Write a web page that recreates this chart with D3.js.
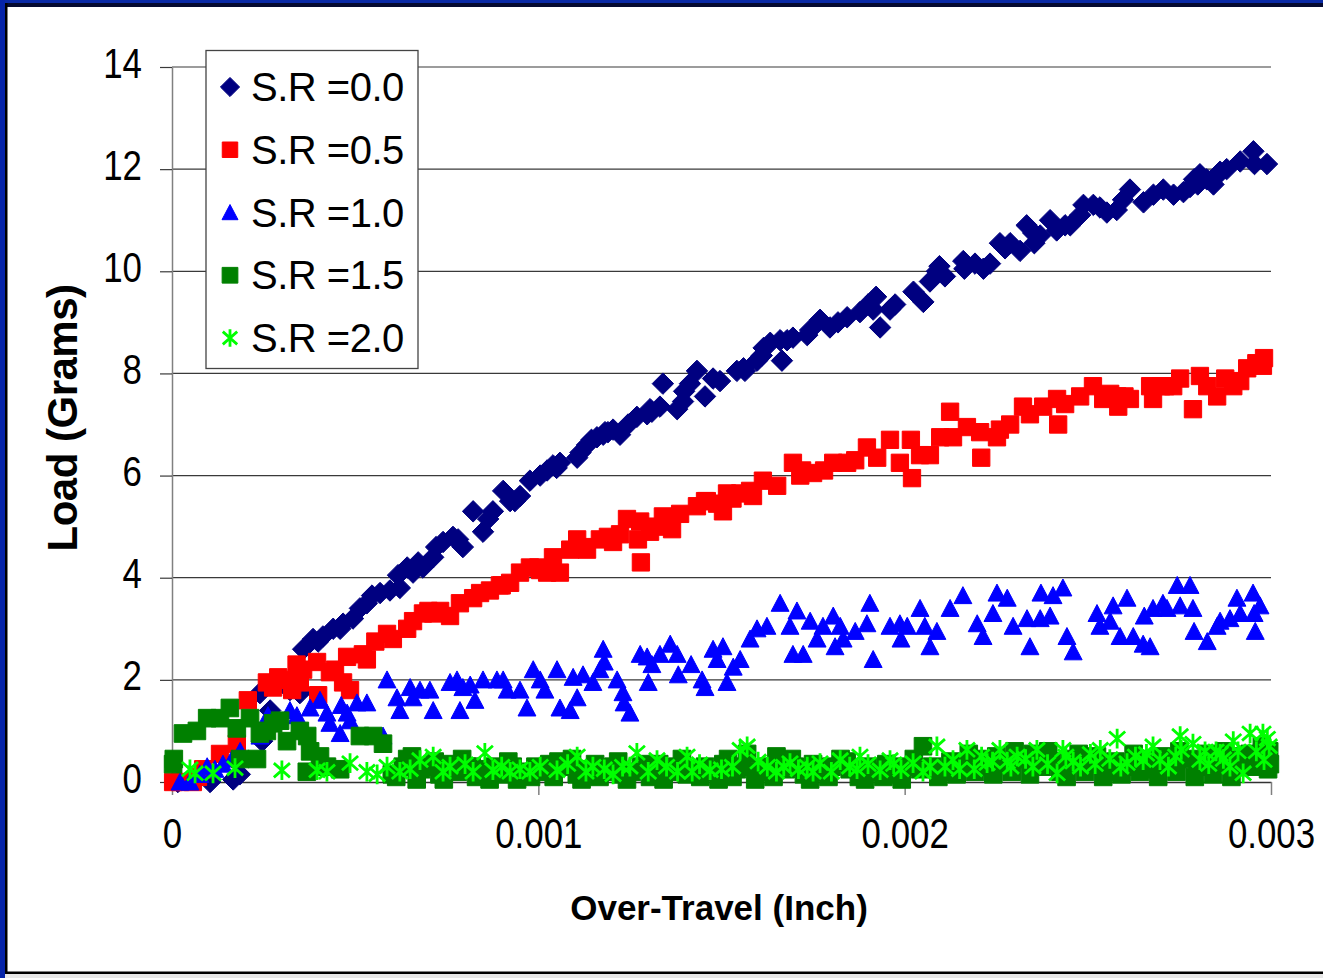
<!DOCTYPE html>
<html><head><meta charset="utf-8">
<script src="https://cdn.jsdelivr.net/npm/d3@7"></script>
<style>
html,body{margin:0;padding:0;background:#fff;}
svg{display:block;}
text{font-family:"Liberation Sans",Arial,Helvetica,sans-serif;fill:#000;}
</style>
</head><body>
<svg id="chart" width="1323" height="978"></svg>
<script>
// ---------------- data (x in inches, y in grams) ----------------
const SERIES_NAMES = ["S.R =0.0", "S.R =0.5", "S.R =1.0", "S.R =1.5", "S.R =2.0"];
const X_TICKS = [0, 0.001, 0.002, 0.003];
const X_TICK_LABELS = ["0", "0.001", "0.002", "0.003"];
const Y_TICKS = [0, 2, 4, 6, 8, 10, 12, 14];
const Y_TICK_LABELS = ["0", "2", "4", "6", "8", "10", "12", "14"];
const X_TITLE = "Over-Travel (Inch)";
const Y_TITLE = "Load (Grams)";

const sr00 = [
[0.000016,0.0],[0.000049,0.05],[0.000104,0.0],[0.000167,0.05],[0.000185,0.15],[0.000246,0.8],
[0.000240,1.74],[0.000268,1.4],[0.000322,1.8],[0.000349,1.74],[0.000358,2.6],[0.000385,2.8],[0.000399,2.75],[0.000412,2.85],
[0.000440,3.0],[0.000459,3.0],[0.000467,3.1],[0.000494,3.2],[0.000513,3.4],[0.000532,3.5],[0.000546,3.65],[0.000568,3.7],
[0.000595,3.75],[0.000617,4.05],[0.000622,3.8],[0.000642,4.2],[0.000658,4.1],[0.000672,4.3],[0.000685,4.2],[0.000713,4.4],
[0.000721,4.6],[0.000740,4.7],[0.000767,4.8],[0.000781,4.75],[0.000794,4.6],[0.000822,5.3],[0.000849,4.9],[0.000863,5.15],[0.000876,5.3],
[0.000904,5.7],[0.000923,5.5],[0.000936,5.5],[0.000950,5.6],[0.000977,5.9],[0.001005,6.0],[0.001024,6.1],[0.001040,6.2],
[0.001050,6.15],[0.001059,6.25],[0.001115,6.45],[0.001145,6.7],[0.001182,6.85],[0.001190,6.85],
[0.001106,6.35],[0.001133,6.6],[0.001160,6.75],[0.001177,6.8],[0.001204,6.9],[0.001223,6.8],[0.001245,7.0],
[0.001269,7.15],[0.001297,7.2],[0.001305,7.3],[0.001310,7.25],[0.001332,7.35],[0.001340,7.8],[0.001379,7.3],
[0.001395,7.45],[0.001398,7.65],[0.001414,7.8],
[0.001433,8.05],[0.001455,7.55],[0.001477,7.9],[0.001496,7.85],[0.001542,8.05],[0.001560,8.1],[0.001564,8.05],[0.001597,8.25],
[0.001610,8.35],[0.001615,8.5],[0.001633,8.6],
[0.001660,8.65],[0.001665,8.25],[0.001679,8.65],[0.001695,8.7],[0.001734,8.75],[0.001742,8.85],[0.001769,9.05],[0.001796,8.9],
[0.001818,9.0],[0.001843,9.1],[0.001878,9.2],[0.001900,9.35],[0.001914,9.25],[0.001922,9.5],[0.001933,8.9],[0.001960,9.25],[0.001974,9.35],
[0.002024,9.6],[0.002051,9.4],[0.002069,9.8],[0.002088,10.0],[0.002095,10.1],[0.002110,9.9],[0.002160,10.2],[0.002163,10.05],
[0.002192,10.15],[0.002215,10.05],[0.002233,10.15],[0.002260,10.55],[0.002274,10.45],[0.002288,10.55],[0.002315,10.4],[0.002333,10.9],
[0.002351,10.75],[0.002354,10.55],[0.002370,10.7],[0.002397,11.0],[0.002415,10.8],[0.002438,10.9],[0.002452,10.9],[0.002479,11.1],
[0.002488,11.3],[0.002515,11.3],[0.002533,11.25],[0.002552,11.15],[0.002579,11.2],[0.002596,11.4],[0.002615,11.6],[0.002652,11.35],
[0.002679,11.5],[0.002706,11.6],[0.002734,11.5],[0.002761,11.55],[0.002779,11.65],[0.002790,11.8],[0.002800,11.7],
[0.002806,11.9],[0.002825,11.8],[0.002843,11.7],[0.002850,11.85],
[0.002861,11.95],[0.002879,12.0],[0.002916,12.15],[0.002952,12.35],[0.002955,12.1],[0.002989,12.1]
];

const sr05 = [
[0.000003,0.0],[0.000022,0.0],[0.000057,0.0],[0.000071,0.1],[0.000085,0.25],[0.000131,0.55],
[0.000177,0.75],[0.000207,1.6],[0.000259,1.95],[0.000276,1.85],[0.000290,2.05],[0.000322,2.0],[0.000328,1.8],
[0.000340,2.3],[0.000349,1.95],[0.000358,2.2],[0.000396,2.35],[0.000399,1.7],[0.000431,2.15],[0.000445,2.2],[0.000467,1.95],[0.000486,1.8],
[0.000478,2.45],[0.000521,2.5],[0.000532,2.4],[0.000555,2.75],[0.000587,2.9],[0.000603,2.8],[0.000642,3.0],[0.000658,3.15],
[0.000685,3.3],[0.000700,3.35],[0.000713,3.3],[0.000732,3.35],[0.000759,3.25],[0.000786,3.5],[0.000822,3.6],[0.000841,3.7],[0.000868,3.75],
[0.000895,3.85],[0.000900,3.85],[0.000923,3.9],[0.000950,4.1],[0.000977,4.2],[0.001000,4.2],[0.001005,4.15],[0.001024,4.1],[0.001040,4.4],[0.001059,4.1],
[0.001087,4.55],[0.001106,4.75],[0.001122,4.6],[0.001133,4.55],[0.001168,4.75],[0.001190,4.8],[0.001204,4.7],[0.001223,4.85],[0.001242,5.15],
[0.001278,5.1],[0.001272,4.75],[0.001280,4.3],[0.001305,4.9],[0.001319,5.0],[0.001340,5.2],[0.001365,4.95],
[0.001387,5.25],[0.001433,5.4],[0.001455,5.5],[0.001460,5.5],[0.001488,5.45],[0.001504,5.3],[0.001515,5.65],[0.001530,5.55],[0.001551,5.65],
[0.001578,5.7],[0.001586,5.6],[0.001613,5.9],[0.001652,5.8],[0.001695,6.25],[0.001715,6.0],[0.001720,6.1],[0.001750,6.05],[0.001780,6.1],[0.001805,6.25],
[0.001843,6.25],[0.001865,6.3],[0.001897,6.55],[0.001925,6.35],[0.001960,6.7],[0.001987,6.25],[0.002017,6.7],
[0.002020,5.95],[0.002042,6.4],[0.002069,6.4],[0.002097,6.75],[0.002124,7.25],[0.002132,6.75],[0.002170,6.95],
[0.002206,6.85],[0.002209,6.35],[0.002252,6.75],[0.002260,6.9],[0.002288,7.0],[0.002323,7.35],[0.002342,7.2],[0.002378,7.35],
[0.002416,7.5],[0.002419,7.0],[0.002438,7.4],[0.002479,7.55],[0.002514,7.75],[0.002542,7.5],[0.002561,7.6],[0.002580,7.55],
[0.002583,7.35],[0.002600,7.55],[0.002615,7.5],[0.002670,7.75],[0.002678,7.5],[0.002700,7.75],[0.002711,7.75],[0.002733,7.75],[0.002752,7.9],
[0.002787,7.3],[0.002806,7.95],[0.002826,7.75],[0.002853,7.55],[0.002875,7.9],[0.002897,7.75],[0.002916,7.85],
[0.002935,8.1],[0.002960,8.2],[0.002978,8.15],[0.002981,8.3]
];

const sr10 = [
[0.000022,0.0],[0.000049,0.0],[0.000076,0.15],[0.000096,0.3],[0.000117,0.25],[0.000139,0.35],
[0.000164,0.45],[0.000186,0.6],[0.000240,0.9],[0.000262,1.3],[0.000322,1.4],[0.000341,1.3],[0.000377,1.45],
[0.000404,1.6],[0.000423,1.35],[0.000431,1.15],[0.000459,0.95],[0.000462,1.5],[0.000478,1.35],[0.000486,1.2],
[0.000505,1.55],[0.000532,1.55],[0.000576,0.9],[0.000587,2.0],[0.000614,1.65],[0.000622,1.4],
[0.000650,1.85],[0.000658,1.65],[0.000677,1.8],[0.000704,1.8],[0.000713,1.4],[0.000759,1.95],[0.000778,2.0],
[0.000786,1.4],[0.000794,1.85],[0.000814,1.9],[0.000827,1.6],[0.000849,2.0],[0.000887,2.0],[0.000904,2.0],
[0.000915,1.8],[0.000950,1.8],[0.000969,1.45],[0.000986,2.2],[0.001005,2.0],[0.001018,1.8],[0.001051,2.2],
[0.001059,1.45],[0.001087,1.4],[0.001095,2.05],[0.001106,1.65],[0.001122,2.1],[0.001149,1.95],
[0.001168,2.2],[0.001177,2.6],[0.001180,2.35],[0.001215,2.0],[0.001231,1.75],[0.001234,1.55],
[0.001250,1.35],[0.001278,2.5],[0.001297,2.45],[0.001300,1.95],[0.001310,2.3],[0.001332,2.5],[0.001360,2.7],
[0.001379,2.5],[0.001382,2.1],[0.001417,2.3],[0.001447,2.0],[0.001455,1.85],[0.001477,2.6],[0.001488,2.4],
[0.001504,2.65],[0.001515,1.95],[0.001532,2.25],[0.001551,2.4],[0.001578,2.8],[0.001597,3.0],[0.001624,3.05],
[0.001660,3.5],[0.001687,3.05],[0.001695,2.5],[0.001706,3.35],[0.001723,2.5],[0.001742,3.15],[0.001761,2.8],
[0.001777,3.05],[0.001805,3.25],[0.001810,2.65],[0.001824,3.05],[0.001832,2.8],[0.001865,2.95],[0.001905,3.5],
[0.001897,3.1],[0.001914,2.4],[0.001960,3.05],[0.001987,3.1],[0.001990,2.8],[0.002007,3.05],
[0.002042,3.4],[0.002055,3.05],[0.002069,2.65],[0.002088,2.95],[0.002124,3.4],[0.002159,3.65],[0.002198,3.1],
[0.002214,2.85],[0.002241,3.3],[0.002252,3.7],[0.002280,3.6],[0.002296,3.05],[0.002334,3.2],
[0.002342,2.65],[0.002370,3.2],[0.002372,3.7],[0.002397,3.25],[0.002405,3.65],[0.002432,3.8],[0.002443,2.85],
[0.002460,2.55],[0.002525,3.3],[0.002533,3.05],[0.002561,3.15],[0.002569,3.45],[0.002588,2.85],[0.002607,3.6],
[0.002624,2.85],[0.002651,2.7],[0.002654,3.25],[0.002670,2.65],[0.002678,3.4],[0.002705,3.5],
[0.002716,3.4],[0.002744,3.85],[0.002752,3.45],[0.002779,3.85],[0.002787,3.4],[0.002790,2.95],[0.002826,2.75],
[0.002853,3.05],[0.002861,3.15],[0.002888,3.2],[0.002907,3.6],[0.002916,3.3],[0.002951,3.7],[0.002954,3.3],
[0.002970,3.45],[0.002957,2.95]
];

const sr15 = [
[0.000003,0.35],[0.000005,0.45],[0.000030,0.95],[0.000068,1.0],[0.000096,1.25],[0.000131,1.25],
[0.000158,1.45],[0.000177,1.05],[0.000213,1.25],[0.000240,0.95],[0.000259,1.0],[0.000276,1.15],
[0.000295,1.2],[0.000314,0.8],[0.000349,1.0],[0.000369,0.9],[0.000377,0.6],[0.000404,0.5],
[0.000423,0.3],[0.000186,0.45],[0.000232,0.45],[0.000368,0.2],[0.000459,0.25],[0.000513,0.9],
[0.000549,0.9],[0.000576,0.75],[0.000600,0.15],[0.000612,0.1],[0.000630,0.3],[0.000642,0.45],[0.000655,0.5],[0.000668,0.05],[0.000680,0.25],
[0.000700,0.3],[0.000717,0.4],[0.000730,0.15],[0.000742,0.05],[0.000755,0.35],[0.000780,0.2],[0.000792,0.45],[0.000805,0.3],[0.000818,0.3],[0.000830,0.1],
[0.000850,0.25],[0.000867,0.05],[0.000880,0.3],[0.000905,0.15],[0.000918,0.4],[0.000930,0.3],[0.000942,0.05],[0.000955,0.2],[0.000980,0.1],[0.000992,0.3],
[0.001005,0.2],[0.001030,0.35],[0.001042,0.1],[0.001055,0.4],[0.001080,0.3],[0.001092,0.45],[0.001105,0.15],[0.001118,0.05],[0.001130,0.25],
[0.001155,0.35],[0.001167,0.1],[0.001180,0.2],[0.001205,0.3],[0.001218,0.4],[0.001230,0.15],[0.001242,0.05],[0.001255,0.2],[0.001280,0.3],[0.001292,0.35],
[0.001305,0.1],[0.001330,0.35],[0.001342,0.05],[0.001355,0.2],[0.001380,0.3],[0.001392,0.45],[0.001405,0.15],[0.001430,0.25],[0.001442,0.1],
[0.001455,0.3],[0.001480,0.2],[0.001492,0.05],[0.001505,0.35],[0.001518,0.45],[0.001530,0.1],[0.001542,0.25],[0.001555,0.3],[0.001570,0.55],
[0.001592,0.05],[0.001600,0.2],[0.001625,0.3],[0.001642,0.1],[0.001650,0.5],[0.001675,0.25],[0.001692,0.45],[0.001700,0.3],[0.001725,0.15],
[0.001742,0.05],[0.001750,0.35],[0.001775,0.2],[0.001792,0.1],[0.001800,0.3],[0.001825,0.45],[0.001842,0.4],[0.001850,0.25],[0.001875,0.1],
[0.001892,0.05],[0.001900,0.3],[0.001925,0.2],[0.001942,0.1],[0.001950,0.35],[0.001975,0.15],[0.001992,0.05],[0.002000,0.3],[0.002025,0.45],
[0.002042,0.25],[0.002050,0.7],[0.002075,0.3],[0.002092,0.1],[0.002100,0.2],[0.002125,0.4],[0.002142,0.15],[0.002150,0.35],[0.002175,0.55],
[0.002192,0.2],[0.002200,0.45],[0.002225,0.3],[0.002242,0.15],[0.002250,0.5],[0.002275,0.35],[0.002292,0.2],[0.002300,0.6],[0.002325,0.45],
[0.002342,0.15],[0.002350,0.55],[0.002375,0.3],[0.002392,0.6],[0.002400,0.4],[0.002425,0.2],[0.002442,0.1],[0.002450,0.45],[0.002475,0.55],
[0.002492,0.2],[0.002500,0.35],[0.002525,0.5],[0.002542,0.1],[0.002550,0.2],[0.002575,0.4],[0.002592,0.15],[0.002600,0.3],[0.002625,0.55],
[0.002642,0.2],[0.002650,0.45],[0.002675,0.25],[0.002692,0.1],[0.002700,0.5],[0.002725,0.35],[0.002742,0.2],[0.002750,0.6],[0.002775,0.45],
[0.002792,0.1],[0.002800,0.3],[0.002825,0.55],[0.002842,0.15],[0.002850,0.4],[0.002875,0.6],[0.002892,0.1],[0.002900,0.35],[0.002925,0.5],
[0.002942,0.55],[0.002950,0.3],[0.002975,0.7],[0.002985,0.55],[0.002992,0.25],[0.002995,0.6],[0.002997,0.35]
];

const sr20 = [
[0.000049,0.25],[0.000063,0.17],[0.000112,0.17],[0.000172,0.27],[0.000300,0.23],[0.000396,0.23],
[0.000423,0.2],[0.000486,0.37],[0.000532,0.2],[0.000560,0.15],[0.000587,0.3],[0.000622,0.2],[0.000650,0.25],[0.000677,0.43],
[0.000713,0.5],[0.000740,0.2],[0.000759,0.3],[0.000800,0.35],[0.000822,0.2],[0.000854,0.57],[0.000876,0.23],[0.000900,0.3],[0.000923,0.2],
[0.000950,0.25],[0.000977,0.2],[0.001005,0.3],[0.001051,0.23],[0.001080,0.35],[0.001106,0.5],[0.001130,0.2],[0.001149,0.3],[0.001180,0.25],
[0.001204,0.15],[0.001230,0.3],[0.001250,0.3],[0.001269,0.57],[0.001300,0.2],[0.001324,0.43],[0.001350,0.3],
[0.001380,0.2],[0.001406,0.5],[0.001420,0.2],[0.001440,0.35],[0.001469,0.23],[0.001500,0.25],[0.001530,0.3],[0.001551,0.63],
[0.001570,0.7],[0.001600,0.4],[0.001625,0.3],[0.001650,0.2],[0.001670,0.3],[0.001687,0.37],[0.001710,0.25],
[0.001734,0.3],[0.001750,0.2],[0.001769,0.37],[0.001800,0.2],[0.001824,0.43],[0.001850,0.3],[0.001870,0.25],[0.001878,0.5],
[0.001900,0.35],[0.001933,0.23],[0.001960,0.43],[0.001970,0.35],[0.001990,0.25],[0.002023,0.37],[0.002050,0.2],[0.002070,0.3],
[0.002088,0.7],[0.002110,0.3],[0.002132,0.43],[0.002150,0.25],[0.002170,0.63],[0.002190,0.25],[0.002210,0.5],[0.002225,0.37],
[0.002240,0.4],[0.002260,0.63],[0.002280,0.4],[0.002290,0.3],[0.002307,0.5],[0.002330,0.45],[0.002350,0.3],[0.002361,0.63],
[0.002390,0.35],[0.002416,0.17],[0.002432,0.63],[0.002440,0.5],[0.002460,0.4],[0.002480,0.3],[0.002507,0.55],[0.002520,0.35],
[0.002534,0.63],[0.002560,0.45],[0.002580,0.85],[0.002590,0.3],[0.002607,0.37],[0.002630,0.5],[0.002651,0.43],[0.002660,0.55],
[0.002678,0.7],[0.002697,0.43],[0.002720,0.3],[0.002740,0.5],[0.002752,0.9],[0.002755,0.63],[0.002787,0.75],
[0.002806,0.43],[0.002820,0.6],[0.002830,0.35],[0.002850,0.6],[0.002861,0.55],[0.002870,0.45],[0.002888,0.3],[0.002897,0.8],
[0.002910,0.6],[0.002924,0.17],[0.002943,0.95],[0.002960,0.6],[0.002978,0.95],[0.002981,0.43],[0.002990,0.85],[0.002995,0.7]
];

// ---------------- drawing ----------------
const W = 1323, H = 978;
const svg = d3.select("#chart");

const x = d3.scaleLinear().domain([0, 0.003]).range([172, 1271]);
const y = d3.scaleLinear().domain([0, 14]).range([782, 67]);

// background + frame
svg.append("rect").attr("x",0).attr("y",0).attr("width",W).attr("height",H).attr("fill","#fff");
svg.append("rect").attr("x",0).attr("y",0).attr("width",W).attr("height",3).attr("fill","#0a2aa6");
svg.append("rect").attr("x",0).attr("y",3).attr("width",W).attr("height",4).attr("fill","#050a30");
svg.append("rect").attr("x",0).attr("y",0).attr("width",5).attr("height",H).attr("fill","#0624a8");
svg.append("rect").attr("x",5).attr("y",3).attr("width",2.5).attr("height",969).attr("fill","#000");
svg.append("rect").attr("x",5).attr("y",971.5).attr("width",W).attr("height",2.5).attr("fill","#000");
svg.append("rect").attr("x",5).attr("y",974).attr("width",W).attr("height",4).attr("fill","#e8e8e8");

// gridlines
svg.append("g").selectAll("line").data(Y_TICKS.filter(d => d > 0)).join("line")
  .attr("x1", x(0)).attr("x2", x(0.003))
  .attr("y1", d => y(d)).attr("y2", d => y(d))
  .attr("stroke", "#3a3a3a").attr("stroke-width", 1.2);

const SX = 0.83; // horizontal squeeze of the tick fonts

// y axis
const gy = svg.append("g").attr("transform", `translate(${x(0)},0)`)
  .call(d3.axisLeft(y).tickValues(Y_TICKS).tickSize(12).tickSizeOuter(0)
        .tickFormat((d, i) => Y_TICK_LABELS[i]));
gy.select(".domain").attr("stroke", "#808080").attr("stroke-width", 1.5);
gy.selectAll(".tick line").attr("stroke", "#3a3a3a").attr("stroke-width", 1.2);
gy.selectAll(".tick text")
  .attr("font-size", 42).attr("font-family", "Liberation Sans, Arial, sans-serif")
  .attr("fill", "#000").attr("text-anchor", "end")
  .attr("x", -30 / SX).attr("y", 10).attr("dy", null)
  .attr("transform", `scale(${SX},1)`);

// x axis
const gx = svg.append("g").attr("transform", `translate(0,${y(0)})`)
  .call(d3.axisBottom(x).tickValues(X_TICKS).tickSize(13).tickSizeOuter(0)
        .tickFormat((d, i) => X_TICK_LABELS[i]));
gx.select(".domain").attr("stroke", "#333").attr("stroke-width", 1.5);
gx.selectAll(".tick line").attr("stroke", "#808080").attr("stroke-width", 1.5);
gx.selectAll(".tick text")
  .attr("font-size", 42).attr("font-family", "Liberation Sans, Arial, sans-serif")
  .attr("fill", "#000").attr("text-anchor", "middle")
  .attr("y", 66).attr("dy", null)
  .attr("transform", `scale(${SX},1)`);

// symbols
const diamondType = { draw(ctx, size) { const r = Math.sqrt(size / 2);
  ctx.moveTo(0, -r); ctx.lineTo(r, 0); ctx.lineTo(0, r); ctx.lineTo(-r, 0); ctx.closePath(); } };
const triangleType = { draw(ctx, size) { const s = Math.sqrt(size);
  ctx.moveTo(0, -0.5 * s); ctx.lineTo(0.5 * s, 0.45 * s); ctx.lineTo(-0.5 * s, 0.45 * s); ctx.closePath(); } };
const asteriskType = { draw(ctx, size) { const s = Math.sqrt(size) / 2;
  ctx.moveTo(0, -s * 1.1); ctx.lineTo(0, s * 1.1);
  ctx.moveTo(-s * 0.9, -s * 0.8); ctx.lineTo(s * 0.9, s * 0.8);
  ctx.moveTo(-s * 0.9, s * 0.8); ctx.lineTo(s * 0.9, -s * 0.8); } };

const SERIES = [
  { data: sr00, type: diamondType,     size: 230, fill: "#000080", stroke: "#000080", sw: 1 },
  { data: sr05, type: d3.symbolSquare, size: 300, fill: "#ff0000", stroke: "#ff0000", sw: 1 },
  { data: sr10, type: triangleType,    size: 320, fill: "#0000ff", stroke: "#0000ff", sw: 1 },
  { data: sr15, type: d3.symbolSquare, size: 310, fill: "#008000", stroke: "#008000", sw: 1 },
  { data: sr20, type: asteriskType,    size: 320, fill: "none",    stroke: "#00ff00", sw: 2.8 }
];

const plot = svg.append("g");
SERIES.forEach(s => {
  const sym = d3.symbol().type(s.type).size(s.size);
  plot.append("g").selectAll("path").data(s.data).join("path")
    .attr("transform", d => `translate(${x(d[0])},${y(d[1])})`)
    .attr("d", sym())
    .attr("fill", s.fill)
    .attr("stroke", s.stroke)
    .attr("stroke-width", s.sw);
});

// legend
const lg = svg.append("g");
lg.append("rect").attr("x", 206).attr("y", 50.5).attr("width", 212).attr("height", 318)
  .attr("fill", "#fff").attr("stroke", "#444").attr("stroke-width", 1.3);
const legendY = d3.scalePoint().domain(SERIES_NAMES).range([87, 338]);
SERIES_NAMES.forEach((name, i) => {
  const s = SERIES[i];
  const cy = legendY(name);
  lg.append("path")
    .attr("transform", `translate(230,${cy})`)
    .attr("d", d3.symbol().type(s.type).size(s.size * 0.8)())
    .attr("fill", s.fill).attr("stroke", s.stroke)
    .attr("stroke-width", s.sw);
  lg.append("text").attr("x", 251).attr("y", cy + 14)
    .attr("font-size", 40).attr("letter-spacing", -0.5).text(name);
});

// axis titles
svg.append("text").attr("x", 719).attr("y", 920).attr("text-anchor", "middle")
  .attr("font-size", 35).attr("font-weight", "bold").text(X_TITLE);
svg.append("text").attr("transform", "translate(77,418) rotate(-90)").attr("text-anchor", "middle")
  .attr("font-size", 42).attr("font-weight", "bold").attr("letter-spacing", -0.5).text(Y_TITLE);
</script>
</body></html>
